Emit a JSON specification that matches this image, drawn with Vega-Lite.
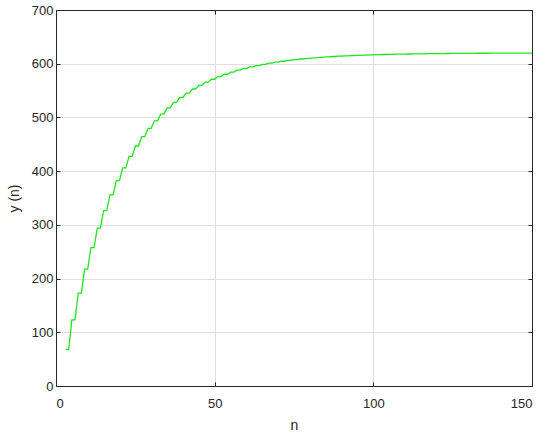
{
  "$schema": "https://vega.github.io/schema/vega-lite/v6.json",
  "width": 476,
  "height": 376,
  "autosize": "none",
  "padding": {"left": 56, "top": 10, "right": 18, "bottom": 53},
  "background": "white",
  "config": {
    "view": {"stroke": "#262626", "strokeWidth": 1},
    "font": "Liberation Sans",
    "axis": {
      "labelFont": "Liberation Sans",
      "titleFont": "Liberation Sans",
      "labelFontSize": 13,
      "titleFontSize": 14,
      "titleFontWeight": "normal",
      "labelColor": "#262626",
      "titleColor": "#262626",
      "domainColor": "#262626",
      "tickColor": "#262626",
      "tickSize": -4,
      "gridColor": "#dedede",
      "gridWidth": 1
    }
  },
  "data": {"values": [
    {"n":3,"y":68},{"n":4,"y":68},
    {"n":5,"y":123.2},{"n":6,"y":123.2},
    {"n":7,"y":172.9},{"n":8,"y":172.9},
    {"n":9,"y":217.6},{"n":10,"y":217.6},
    {"n":11,"y":257.8},{"n":12,"y":257.8},
    {"n":13,"y":294.0},{"n":14,"y":294.0},
    {"n":15,"y":326.6},{"n":16,"y":326.6},
    {"n":17,"y":356.0},{"n":18,"y":356.0},
    {"n":19,"y":382.4},{"n":20,"y":382.4},
    {"n":21,"y":406.1},{"n":22,"y":406.1},
    {"n":23,"y":427.5},{"n":24,"y":427.5},
    {"n":25,"y":446.8},{"n":26,"y":446.8},
    {"n":27,"y":464.1},{"n":28,"y":464.1},
    {"n":29,"y":479.7},{"n":30,"y":479.7},
    {"n":31,"y":493.7},{"n":32,"y":493.7},
    {"n":33,"y":506.3},{"n":34,"y":506.3},
    {"n":35,"y":517.7},{"n":36,"y":517.7},
    {"n":37,"y":527.9},{"n":38,"y":527.9},
    {"n":39,"y":537.1},{"n":40,"y":537.1},
    {"n":41,"y":545.4},{"n":42,"y":545.4},
    {"n":43,"y":552.9},{"n":44,"y":552.9},
    {"n":45,"y":559.6},{"n":46,"y":559.6},
    {"n":47,"y":565.6},{"n":48,"y":565.6},
    {"n":49,"y":571.1},{"n":50,"y":571.1},
    {"n":51,"y":576.0},{"n":52,"y":576.0},
    {"n":53,"y":580.4},{"n":54,"y":580.4},
    {"n":55,"y":584.3},{"n":56,"y":584.3},
    {"n":57,"y":587.9},{"n":58,"y":587.9},
    {"n":59,"y":591.1},{"n":60,"y":591.1},
    {"n":61,"y":594.0},{"n":62,"y":594.0},
    {"n":63,"y":596.6},{"n":64,"y":596.6},
    {"n":65,"y":598.9},{"n":66,"y":598.9},
    {"n":67,"y":601.0},{"n":68,"y":601.0},
    {"n":69,"y":602.9},{"n":70,"y":602.9},
    {"n":71,"y":604.6},{"n":72,"y":604.6},
    {"n":73,"y":606.2},{"n":74,"y":606.2},
    {"n":75,"y":607.6},{"n":76,"y":607.6},
    {"n":77,"y":608.8},{"n":78,"y":608.8},
    {"n":79,"y":609.9},{"n":80,"y":609.9},
    {"n":81,"y":610.9},{"n":82,"y":610.9},
    {"n":83,"y":611.8},{"n":84,"y":611.8},
    {"n":85,"y":612.7},{"n":86,"y":612.7},
    {"n":87,"y":613.4},{"n":88,"y":613.4},
    {"n":89,"y":614.1},{"n":90,"y":614.1},
    {"n":91,"y":614.6},{"n":92,"y":614.6},
    {"n":93,"y":615.2},{"n":94,"y":615.2},
    {"n":95,"y":615.7},{"n":96,"y":615.7},
    {"n":97,"y":616.1},{"n":98,"y":616.1},
    {"n":99,"y":616.5},{"n":100,"y":616.5},
    {"n":101,"y":616.8},{"n":102,"y":616.8},
    {"n":103,"y":617.2},{"n":104,"y":617.2},
    {"n":105,"y":617.4},{"n":106,"y":617.4},
    {"n":107,"y":617.7},{"n":108,"y":617.7},
    {"n":109,"y":617.9},{"n":110,"y":617.9},
    {"n":111,"y":618.1},{"n":112,"y":618.1},
    {"n":113,"y":618.3},{"n":114,"y":618.3},
    {"n":115,"y":618.5},{"n":116,"y":618.5},
    {"n":117,"y":618.6},{"n":118,"y":618.6},
    {"n":119,"y":618.8},{"n":120,"y":618.8},
    {"n":121,"y":618.9},{"n":122,"y":618.9},
    {"n":123,"y":619.0},{"n":124,"y":619.0},
    {"n":125,"y":619.1},{"n":126,"y":619.1},
    {"n":127,"y":619.2},{"n":128,"y":619.2},
    {"n":129,"y":619.3},{"n":130,"y":619.3},
    {"n":131,"y":619.4},{"n":132,"y":619.4},
    {"n":133,"y":619.5},{"n":134,"y":619.5},
    {"n":135,"y":619.5},{"n":136,"y":619.5},
    {"n":137,"y":619.6},{"n":138,"y":619.6},
    {"n":139,"y":619.6},{"n":140,"y":619.6},
    {"n":141,"y":619.7},{"n":142,"y":619.7},
    {"n":143,"y":619.7},{"n":144,"y":619.7},
    {"n":145,"y":619.7},{"n":146,"y":619.7},
    {"n":147,"y":619.8},{"n":148,"y":619.8},
    {"n":149,"y":619.8},{"n":150,"y":619.8}
  ]},
  "layer": [
    {
      "mark": {"type": "line", "color": "#1ee61e", "strokeWidth": 1.3, "clip": true},
      "encoding": {
        "x": {
          "field": "n", "type": "quantitative",
          "scale": {"domain": [0, 150], "nice": false, "zero": false},
          "axis": {"values": [0, 50, 100, 150], "title": "n", "labelPadding": 15, "titlePadding": 8}
        },
        "y": {
          "field": "y", "type": "quantitative",
          "scale": {"domain": [0, 700], "nice": false},
          "axis": {"values": [0, 100, 200, 300, 400, 500, 600, 700], "title": "y (n)", "labelPadding": 7, "titlePadding": 10}
        }
      }
    },
    {
      "mark": {"type": "line", "opacity": 0},
      "encoding": {
        "x": {
          "field": "n", "type": "quantitative",
          "scale": {"domain": [0, 150], "nice": false, "zero": false},
          "axis": {"orient": "top", "values": [0, 50, 100, 150], "labels": false, "title": null, "grid": false}
        },
        "y": {
          "field": "y", "type": "quantitative",
          "scale": {"domain": [0, 700], "nice": false},
          "axis": {"orient": "right", "values": [0, 100, 200, 300, 400, 500, 600, 700], "labels": false, "title": null, "grid": false}
        }
      }
    }
  ],
  "resolve": {"scale": {"x": "independent", "y": "independent"}}
}
